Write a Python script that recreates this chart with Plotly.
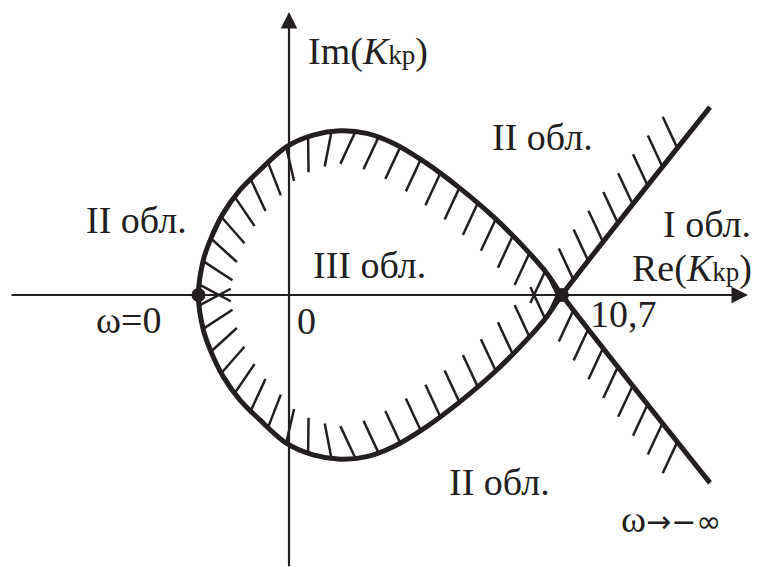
import numpy as np
import plotly.graph_objects as go

# D-partition boundary, branch for omega from 0 to -inf (upper loop, then the
# straight part going down-right); the other branch is its mirror image
branch_re = [-3.55, -3.36, -3.03, -2.58, -1.92, -1.14, -0.09, 0.95, 2.00, 3.05,
             4.09, 5.40, 6.71, 8.01, 9.32, 10.11, 10.70, 16.51]
branch_im = [0.00, 1.37, 2.29, 3.20, 4.12, 4.90, 5.82, 6.27, 6.44, 6.34,
             5.95, 5.16, 4.18, 3.07, 1.76, 0.85, 0.00, -7.37]

k_start = -3.55   # omega = 0
k_cross = 10.7    # self-crossing on the real axis

INK = '#231f20'
FONT = 'Liberation Serif'

re_a = np.array(branch_re)
im_a = np.array(branch_im)
# whole curve: mirrored branch reversed, then the branch itself
curve_re = np.concatenate([re_a[::-1], re_a[1:]])
curve_im = np.concatenate([-im_a[::-1], im_a[1:]])


# hatch strokes on the right-hand side of the branch (mirrored for the other)
def hatches(xs, ys, step=0.94, first=0.4, last=1.4, length=1.37):
    seg = np.hypot(np.diff(xs), np.diff(ys))
    cum = np.concatenate([[0], np.cumsum(seg)])

    def at(s):
        i = min(max(np.searchsorted(cum, s) - 1, 0), len(seg) - 1)
        t = (s - cum[i]) / seg[i]
        return xs[i] + t * (xs[i + 1] - xs[i]), ys[i] + t * (ys[i + 1] - ys[i])

    hx, hy = [], []
    for s in np.arange(first, cum[-1] - last, step):
        x0, y0 = at(s)
        x1, y1 = at(max(s - 0.35, 0))
        x2, y2 = at(min(s + 0.35, cum[-1]))
        ang = np.degrees(np.arctan2(y2 - y1, x2 - x1)) - 90   # right normal
        ang = max(ang - 20, -115)
        a = np.radians(ang)
        hx += [x0, x0 + length * np.cos(a), None]
        hy += [y0, y0 + length * np.sin(a), None]
    return hx, hy


hx, hy = hatches(re_a, im_a)
hx_all = hx + hx
hy_all = hy + [None if v is None else -v for v in hy]

fig = go.Figure()
fig.add_trace(go.Scatter(x=hx_all, y=hy_all, mode='lines',
                         line=dict(color=INK, width=2.5), hoverinfo='skip'))
fig.add_trace(go.Scatter(x=curve_re, y=curve_im, mode='lines',
                         line=dict(color=INK, width=5, shape='spline')))
fig.add_trace(go.Scatter(x=[k_start, k_cross], y=[0, 0], mode='markers',
                         marker=dict(color=INK, size=14)))

# axes with arrows
fig.add_annotation(x=18.0, y=0, ax=-10.94, ay=0, xref='x', yref='y', axref='x', ayref='y',
                   text='', showarrow=True, arrowhead=2, arrowsize=1.5, arrowwidth=2.2,
                   arrowcolor=INK)
fig.add_annotation(x=0, y=11.1, ax=0, ay=-10.7, xref='x', yref='y', axref='x', ayref='y',
                   text='', showarrow=True, arrowhead=2, arrowsize=1.5, arrowwidth=2.2,
                   arrowcolor=INK)

kkp = "<i>K</i><span style='font-size:27px'>kp</span>"
tail = ("<span style='font-family:DejaVu Sans;font-size:30px'>→−</span>"
        "<span style='font-family:DejaVu Sans;font-size:30px'>∞</span>")
labels = [
    (3.08, 9.55, "Im(" + kkp + ")", 'center'),
    (18.24, 1.04, "Re(" + kkp + ")", 'right'),
    (9.94, 6.18, "II обл.", 'center'),
    (-5.98, 2.96, "II обл.", 'center'),
    (18.20, 2.80, "I обл.", 'right'),
    (3.16, 1.18, "III обл.", 'center'),
    (8.25, -7.35, "II обл.", 'center'),
    (-6.31, -0.98, "ω=0", 'center'),
    (0.69, -1.02, "0", 'center'),
    (13.12, -0.75, "10,7", 'center'),
    (14.98, -8.78, "ω" + tail, 'center'),
]
for x, y, t, anchor in labels:
    fig.add_annotation(x=x, y=y, xref='x', yref='y', text=t, showarrow=False,
                       xanchor=anchor, yanchor='middle',
                       font=dict(family=FONT, size=38, color=INK))

# the page body keeps an 8 px margin, so the figure is 8 px smaller
fig.update_layout(
    width=751, height=559,
    margin=dict(l=0, r=0, t=0, b=0),
    paper_bgcolor='white', plot_bgcolor='white',
    showlegend=False,
    xaxis=dict(range=[-11.020, 18.431], visible=False, fixedrange=True),
    yaxis=dict(range=[-10.667, 11.255], visible=False, fixedrange=True),
)

fig.write_html("out.html")
